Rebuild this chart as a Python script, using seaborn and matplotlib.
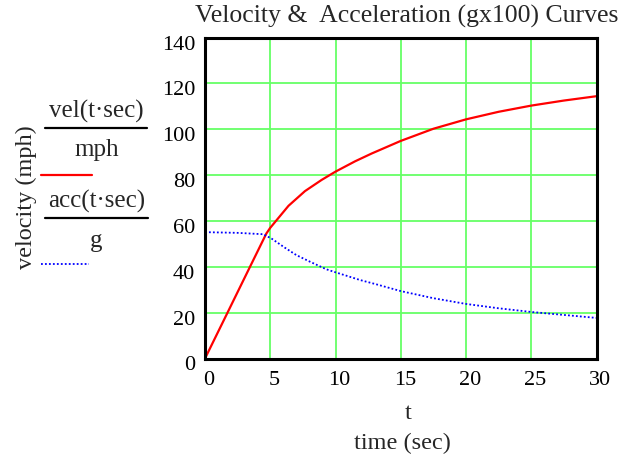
import matplotlib
matplotlib.use("Agg")
import matplotlib.pyplot as plt
import matplotlib.transforms as mtransforms
from matplotlib.lines import Line2D
import seaborn as sns
import pandas as pd

# ---- data ----
t_vel = [0, 1.7, 3.5, 4.2, 4.7, 5, 6.4, 7.66, 8.94, 10, 11.5, 12.77, 15, 17.5, 20, 22.5, 25, 27.5, 30]
vel = [0, 19.7, 40.6, 48.7, 54.5, 57.0, 66.6, 73.0, 77.9, 81.5, 86.0, 89.4, 94.9, 100.2, 104.3, 107.6, 110.3, 112.5, 114.4]
t_acc = [0, 2.5, 4.45, 5.1, 6.1, 7.0, 8.05, 9.3, 10, 11.9, 13.1, 15, 17.5, 20, 22.5, 25, 27.5, 30]
acc = [55.1, 54.8, 54.2, 52.3, 48.4, 45.1, 42.2, 38.9, 37.6, 34.2, 32.4, 29.4, 26.3, 23.8, 21.9, 20.3, 19.0, 17.7]
x_ticks = [0, 5, 10, 15, 20, 25, 30]
y_ticks = [0, 20, 40, 60, 80, 100, 120, 140]

sns.set_style("white")
plt.rcParams['font.family'] = ['Liberation Serif', 'DejaVu Serif']

W, H = 630, 461
fig = plt.figure(figsize=(W / 100, H / 100), dpi=100)

def fx(x):
    return x / W

def fy(y):
    return 1 - y / H

left, right, top, bottom = 205, 596.5, 37.5, 358.5
ax = fig.add_axes([fx(left), fy(bottom), (right - left) / W, (bottom - top) / H])

df_v = pd.DataFrame({"t": t_vel, "v": vel})
df_a = pd.DataFrame({"t": t_acc, "a": acc})
sns.lineplot(data=df_v, x="t", y="v", ax=ax, color="#ff0000", linewidth=1.6, zorder=3)
sns.lineplot(data=df_a, x="t", y="a", ax=ax, color="#0000ff", linewidth=1.3,
             linestyle=(0, (1, 1.2)), zorder=3)

ax.set_xlim(0, 30)
ax.set_ylim(0, 140)
ax.set_xticks(x_ticks)
ax.set_yticks(y_ticks)
ax.set_xticklabels([str(v) for v in x_ticks])
ax.set_yticklabels([str(v) for v in y_ticks])
ax.grid(True, color="#66ff66", linewidth=1.3, zorder=1)
ax.set_axisbelow(True)
for s in ax.spines.values():
    s.set_color("black")
    s.set_linewidth(2.2)
    s.set_zorder(4)
ax.tick_params(axis="both", length=0, labelsize=16, colors="black")
ax.tick_params(axis="x", pad=9)
ax.tick_params(axis="y", pad=7)
ax.set_xlabel("")
ax.set_ylabel("")

# Mathcad-style label offsets
for lab in ax.get_xticklabels():
    lab.set_transform(lab.get_transform() + mtransforms.ScaledTranslation(4 / 100, 0, fig.dpi_scale_trans))
for lab in ax.get_yticklabels():
    lab.set_transform(lab.get_transform() + mtransforms.ScaledTranslation(0, -5 / 100, fig.dpi_scale_trans))

# title and axis labels
fig.text(fx(407), fy(16), "Velocity &  Acceleration (gx100) Curves", ha="center", va="center", fontsize=18.5)
fig.text(fx(408), fy(413), "t", ha="center", va="center", fontsize=17.5)
fig.text(fx(402), fy(443), "time (sec)", ha="center", va="center", fontsize=17.5)
fig.text(fx(26), fy(197), "velocity (mph)", ha="center", va="center", rotation=90, fontsize=17.5)

# Mathcad legend-like expressions
fig.text(fx(96), fy(111), "vel(t\u00b7sec)", ha="center", va="center", fontsize=18)
fig.text(fx(96.5), fy(150), "mph", ha="center", va="center", fontsize=18)
fig.text(fx(96.5), fy(201), "acc(t\u00b7sec)", ha="center", va="center", fontsize=18)
fig.text(fx(96.5), fy(241), "g", ha="center", va="center", fontsize=18)
fig.add_artist(Line2D([fx(45), fx(147)], [fy(128.3), fy(128.3)], color="black", linewidth=1.6))
fig.add_artist(Line2D([fx(45), fx(148)], [fy(218.3), fy(218.3)], color="black", linewidth=1.6))
fig.add_artist(Line2D([fx(41), fx(92)], [fy(175), fy(175)], color="#ff0000", linewidth=1.6))
fig.add_artist(Line2D([fx(41), fx(89)], [fy(264.3), fy(264.3)], color="#0000ff", linewidth=1.3,
                      linestyle=(0, (1, 1.2))))

fig.savefig("out.png", dpi=100)
